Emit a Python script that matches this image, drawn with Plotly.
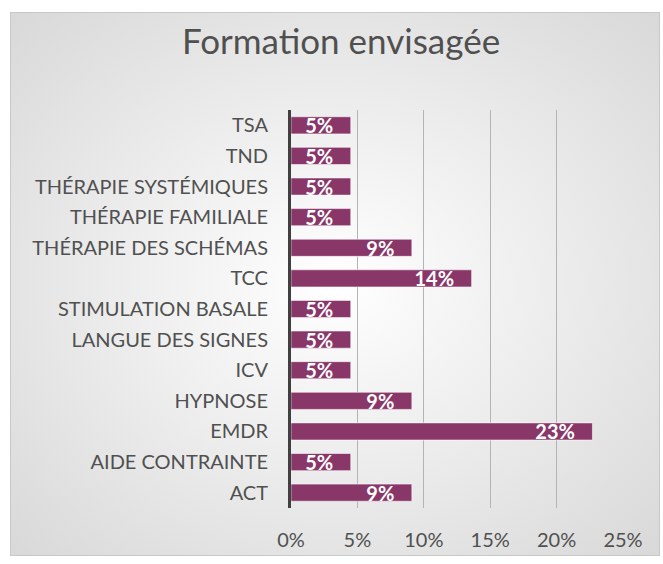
import base64
import plotly.graph_objects as go

# categories from bottom to top (as plotly draws them)
categories = ["ACT", "AIDE CONTRAINTE", "EMDR", "HYPNOSE", "ICV",
              "LANGUE DES SIGNES", "STIMULATION BASALE", "TCC",
              "THÉRAPIE DES SCHÉMAS", "THÉRAPIE FAMILIALE",
              "THÉRAPIE SYSTÉMIQUES", "TND", "TSA"]
shares = [0.091, 0.045, 0.227, 0.091, 0.045, 0.045, 0.045, 0.136,
          0.091, 0.045, 0.045, 0.045, 0.045]
tick_vals = [0, 0.05, 0.10, 0.15, 0.20, 0.25]
tick_text = ["0%", "5%", "10%", "15%", "20%", "25%"]

W, H = 663, 564
ml, mr, mt, mb = 291, 40, 110, 56

# background: radial gradient like the excel chart area, with a thin frame
svg = f"""<svg xmlns='http://www.w3.org/2000/svg' width='{W}' height='{H}'>
<defs><radialGradient id='g' cx='50%' cy='50%' r='75%'>
<stop offset='0%' stop-color='#ffffff'/><stop offset='100%' stop-color='#d6d6d6'/>
</radialGradient></defs>
<rect width='{W}' height='{H}' fill='#ffffff'/>
<rect x='10.5' y='12.5' width='649' height='543' fill='url(#g)' stroke='#c8c8c8' stroke-width='1'/>
</svg>"""
bg_src = "data:image/svg+xml;base64," + base64.b64encode(svg.encode()).decode()

pw, ph = W - ml - mr, H - mt - mb

fig = go.Figure()
fig.add_trace(go.Bar(
    x=shares, y=categories, orientation="h",
    marker=dict(color="#893769", line=dict(color="rgba(255,255,255,0.55)", width=1)),
    width=0.56,
    texttemplate="%{x:.0%}\u00a0\u00a0\u00a0",
    textposition="inside", insidetextanchor="end", constraintext="none",
    textfont=dict(family="Lato", size=20, color="white", weight="bold"),
    cliponaxis=False,
))

fig.update_layout(
    width=W, height=H,
    margin=dict(l=ml, r=mr, t=mt, b=mb),
    paper_bgcolor="white", plot_bgcolor="rgba(0,0,0,0)",
    title=dict(text="Formation envisagée", x=341 / W, xanchor="center",
               y=1 - 42 / H, yanchor="middle",
               font=dict(family="Lato", size=35, color="#505050")),
    font=dict(family="Lato", color="#505050"),
    showlegend=False,
    xaxis=dict(range=[0, 0.25], tickvals=tick_vals, ticktext=tick_text,
               showgrid=True, gridcolor="#b4b4b4", gridwidth=1,
               zeroline=False, showline=False, ticklabelstandoff=18,
               tickfont=dict(size=20)),
    yaxis=dict(categoryorder="array", categoryarray=categories,
               showgrid=False, zeroline=False,
               showline=True, linecolor="#404040", linewidth=3,
               ticklabelstandoff=16, tickfont=dict(size=20)),
    images=[dict(source=bg_src, xref="paper", yref="paper",
                 x=-ml / pw, y=(ph + mt) / ph, sizex=W / pw, sizey=H / ph,
                 xanchor="left", yanchor="top", sizing="stretch", layer="below")],
)

# drop the page's default body margin so the figure sits at the window origin
fig.write_html("out.html", config={"displayModeBar": False},
               post_script="document.body.style.margin='0';")
